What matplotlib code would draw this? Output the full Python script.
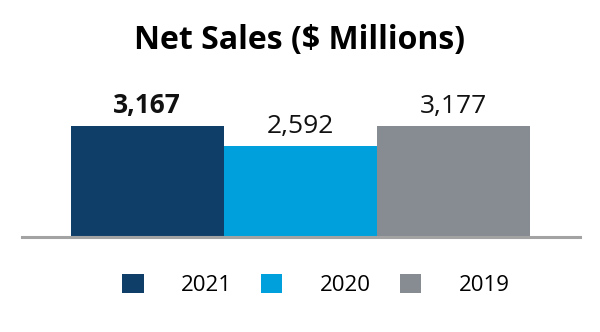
import matplotlib.pyplot as plt
from matplotlib.patches import Patch

plt.rcParams['font.family'] = ['Open Sans', 'DejaVu Sans']

years = ["2021", "2020", "2019"]
net_sales = [3167, 2592, 3177]
bar_colors = ["#0f3f68", "#00a0dc", "#878c93"]
label_weights = ["bold", "normal", "normal"]

fig = plt.figure(figsize=(6, 3.32), dpi=100, facecolor="white")
ax = fig.add_axes([22 / 600, 0.286, 558 / 600, 0.533])

x = list(range(len(years)))
bars = ax.bar(x, net_sales, width=1.0, color=bar_colors, edgecolor="none")

for rect, val, w in zip(bars, net_sales, label_weights):
    ax.annotate(f"{val:,}", (rect.get_x() + rect.get_width() / 2, rect.get_height()),
                xytext=(0, 5), textcoords="offset points", ha="center", va="bottom",
                fontsize=19, fontweight=w, color="#111111")

ax.set_xlim(-0.817, 2.83)
ax.set_ylim(0, 5050)
ax.axhline(0, color="#a3a3a3", linewidth=2.2, clip_on=False)
for s in ax.spines.values():
    s.set_visible(False)
ax.set_xticks([])
ax.set_yticks([])

fig.text(0.5, 0.878, "Net Sales ($ Millions)", ha="center", va="center",
         fontsize=23, fontweight="bold", color="#000000")

handles = [Patch(facecolor=c, edgecolor="none") for c in bar_colors]
fig.legend(handles, years, loc="center", bbox_to_anchor=(0.527, 0.142),
           ncol=3, frameon=False, fontsize=16, handlelength=0.95, handleheight=0.95,
           handletextpad=1.7, columnspacing=1.3)

fig.savefig("out.png", dpi=100, facecolor=fig.get_facecolor())
